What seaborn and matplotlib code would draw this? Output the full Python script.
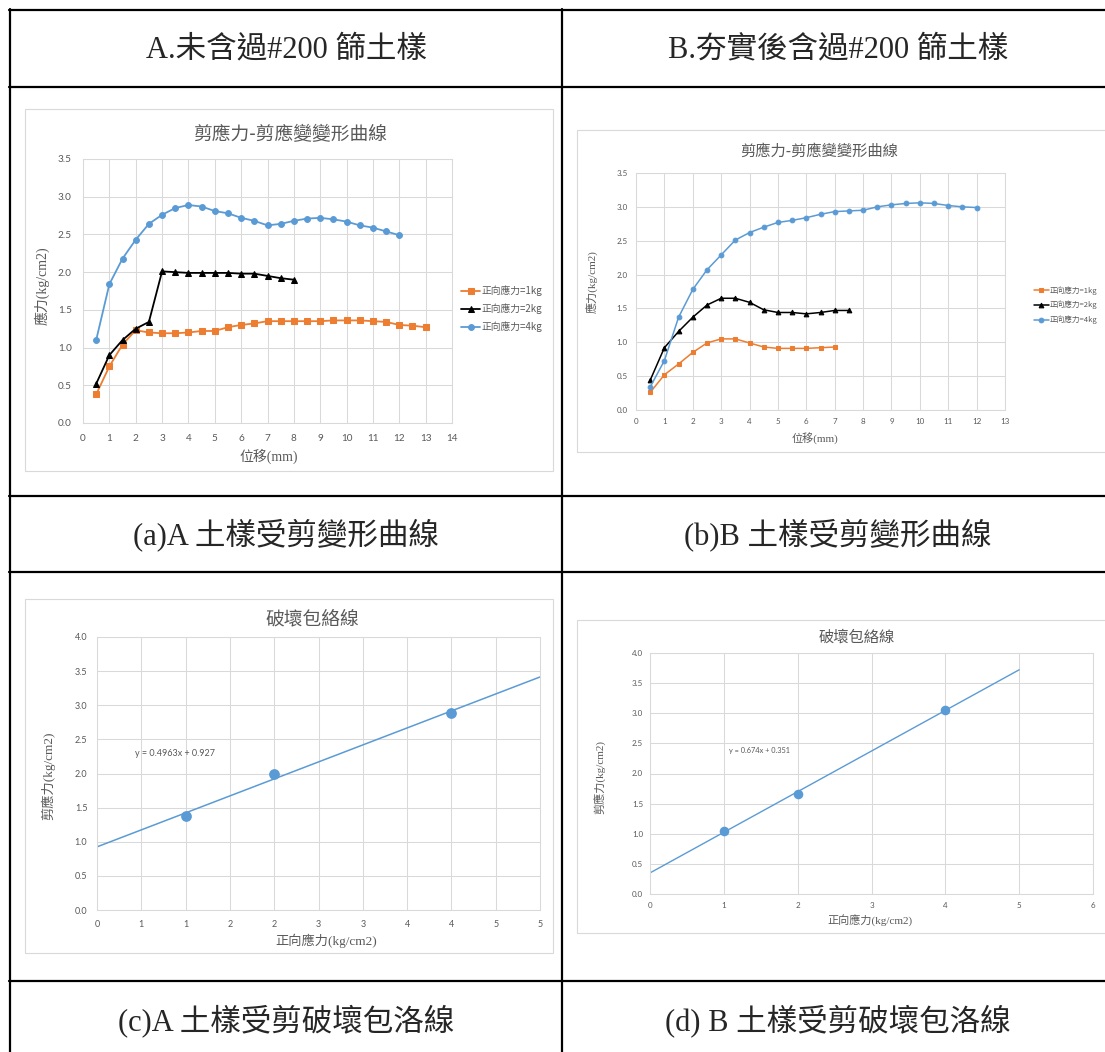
import numpy as np
import pandas as pd
import seaborn as sns
import matplotlib.pyplot as plt
from matplotlib.lines import Line2D
from matplotlib.patches import Rectangle
from matplotlib.ticker import FormatStrFormatter, FixedLocator, FixedFormatter

# ---- texts of the table ----
headers = ["A.未含過#200 篩土樣", "B.夯實後含過#200 篩土樣"]
captions_top = ["(a)A 土樣受剪變形曲線", "(b)B 土樣受剪變形曲線"]
captions_bottom = ["(c)A 土樣受剪破壞包洛線", "(d) B 土樣受剪破壞包洛線"]

curve_title = "剪應力-剪應變變形曲線"
curve_xlabel = "位移(mm)"
curve_ylabel = "應力(kg/cm2)"
env_title = "破壞包絡線"
env_xlabel = "正向應力(kg/cm2)"
env_ylabel = "剪應力(kg/cm2)"
series_names = ["正向應力=1kg", "正向應力=2kg", "正向應力=4kg"]

# ---- (a) soil A, shear stress vs displacement ----
disp_a1 = [0.5, 1, 1.5, 2, 2.5, 3, 3.5, 4, 4.5, 5, 5.5, 6, 6.5, 7, 7.5, 8, 8.5,
           9, 9.5, 10, 10.5, 11, 11.5, 12, 12.5, 13]
tau_a1 = [0.38, 0.75, 1.04, 1.23, 1.20, 1.19, 1.19, 1.20, 1.22, 1.22, 1.27, 1.30, 1.32,
          1.35, 1.35, 1.35, 1.35, 1.35, 1.36, 1.36, 1.36, 1.35, 1.34, 1.30, 1.29, 1.27]
disp_a2 = [0.5, 1, 1.5, 2, 2.5, 3, 3.5, 4, 4.5, 5, 5.5, 6, 6.5, 7, 7.5, 8]
tau_a2 = [0.52, 0.90, 1.10, 1.25, 1.34, 2.01, 2.00, 1.99, 1.99, 1.99, 1.99, 1.98, 1.98,
          1.95, 1.92, 1.90]
disp_a4 = [0.5, 1, 1.5, 2, 2.5, 3, 3.5, 4, 4.5, 5, 5.5, 6, 6.5, 7, 7.5, 8, 8.5,
           9, 9.5, 10, 10.5, 11, 11.5, 12]
tau_a4 = [1.10, 1.84, 2.18, 2.43, 2.64, 2.76, 2.85, 2.89, 2.87, 2.81, 2.78, 2.72, 2.68,
          2.62, 2.64, 2.68, 2.71, 2.72, 2.70, 2.67, 2.62, 2.59, 2.54, 2.49]

# ---- (b) soil B ----
disp_b1 = [0.5, 1, 1.5, 2, 2.5, 3, 3.5, 4, 4.5, 5, 5.5, 6, 6.5, 7]
tau_b1 = [0.26, 0.52, 0.68, 0.85, 0.99, 1.05, 1.05, 0.99, 0.93, 0.91, 0.91, 0.91, 0.92, 0.93]
disp_b2 = [0.5, 1, 1.5, 2, 2.5, 3, 3.5, 4, 4.5, 5, 5.5, 6, 6.5, 7, 7.5]
tau_b2 = [0.44, 0.92, 1.16, 1.37, 1.55, 1.65, 1.65, 1.59, 1.48, 1.44, 1.44, 1.42, 1.44,
          1.47, 1.47]
disp_b4 = [0.5, 1, 1.5, 2, 2.5, 3, 3.5, 4, 4.5, 5, 5.5, 6, 6.5, 7, 7.5, 8, 8.5,
           9, 9.5, 10, 10.5, 11, 11.5, 12]
tau_b4 = [0.34, 0.73, 1.37, 1.78, 2.07, 2.29, 2.51, 2.62, 2.70, 2.77, 2.80, 2.84, 2.89,
          2.93, 2.94, 2.95, 3.00, 3.03, 3.05, 3.06, 3.05, 3.02, 3.00, 2.99]

# ---- (c)/(d) failure envelopes ----
normal_stress = [1, 2, 4]
peak_a = [1.37, 2.00, 2.89]
peak_b = [1.05, 1.66, 3.06]
eq_a = "y = 0.4963x + 0.927"
eq_b = "y = 0.674x + 0.351"
ticks_c = [0, 0.5, 1, 1.5, 2, 2.5, 3, 3.5, 4, 4.5, 5]
ticklabels_c = ["0", "1", "1", "2", "2", "3", "3", "4", "4", "5", "5"]

ORANGE = "#ED7D31"
BLUE = "#5B9BD5"
GRID = "#d9d9d9"
TXT = "#595959"
CJK = ["Noto Sans CJK TC", "DejaVu Sans"]
SERIF = ["Liberation Serif", "Noto Sans CJK TC"]

sns.set_style("white")
plt.rcParams["font.family"] = CJK

W, H = 1105, 1052
fig = plt.figure(figsize=(W / 100, H / 100), dpi=100)


def rect(l, t, r, b):
    return [l / W, 1 - b / H, (r - l) / W, (b - t) / H]


def put(x, y, s, **kw):
    kw.setdefault("ha", "center")
    kw.setdefault("va", "center")
    fig.text(x / W, 1 - y / H, s, **kw)


def frame(l, t, r, b):
    fig.add_artist(Rectangle((l / W, 1 - b / H), (r - l) / W, (b - t) / H, fill=False,
                             ec=GRID, lw=0.8, transform=fig.transFigure))


def style(ax, fs, padx, pady):
    ax.grid(True, color=GRID, lw=0.75)
    ax.set_axisbelow(True)
    for s in ax.spines.values():
        s.set_color(GRID)
        s.set_linewidth(0.75)
    ax.tick_params(length=0, labelsize=fs, labelcolor=TXT, labelfontfamily="Lato")
    ax.tick_params(axis="x", pad=padx)
    ax.tick_params(axis="y", pad=pady)
    ax.yaxis.set_major_formatter(FormatStrFormatter("%.1f"))
    ax.set_xlabel("")
    ax.set_ylabel("")


# table grid
for y in [10, 87, 496, 572, 981]:
    fig.add_artist(Line2D([9 / W, 1], [1 - y / H] * 2, color="black", lw=1.6,
                          transform=fig.transFigure))
for x in [10, 562]:
    fig.add_artist(Line2D([x / W] * 2, [1 - 9 / H, 0], color="black", lw=1.6,
                          transform=fig.transFigure))

for cx, h, c1, c2 in zip([286, 838], headers, captions_top, captions_bottom):
    put(cx, 50, h, fontsize=22, family=SERIF)
    put(cx, 535, c1, fontsize=22, family=SERIF)
    put(cx, 1021, c2, fontsize=22, family=SERIF)

frame(25, 109, 553, 471)
frame(577, 130, 1110, 452)
frame(25, 599, 553, 953)
frame(577, 620, 1110, 933)


def curve_panel(box, xs, ys, xmax, ms, lw, fs, pads):
    ax = fig.add_axes(rect(*box))
    markers = ["s", "^", "o"]
    colors = [ORANGE, "black", BLUE]
    for x, y, m, c, name in zip(xs, ys, markers, colors, series_names):
        sns.lineplot(x=x, y=y, ax=ax, color=c, marker=m, markersize=ms, mec=c, mfc=c,
                     linewidth=lw, label=name, sort=False, errorbar=None)
    ax.set_xlim(0, xmax)
    ax.set_ylim(0, 3.5)
    ax.xaxis.set_major_locator(FixedLocator(list(range(0, xmax + 1))))
    ax.yaxis.set_major_locator(FixedLocator([0, 0.5, 1, 1.5, 2, 2.5, 3, 3.5]))
    style(ax, fs, *pads)
    return ax


# (a)
ax_a = curve_panel((83, 159, 452, 423), [disp_a1, disp_a2, disp_a4],
                   [tau_a1, tau_a2, tau_a4], 14, 4.2, 1.3, 7.2, (8, 8))
ax_a.legend(loc="center left", bbox_to_anchor=(461 / W, 1 - 309 / H),
            bbox_transform=fig.transFigure, frameon=False, fontsize=7,
            handlelength=2.0, handletextpad=0.15, labelspacing=0.75, borderpad=0,
            borderaxespad=0, labelcolor=TXT)
put(290, 135, curve_title, fontsize=13.5, color=TXT)
put(269, 456, curve_xlabel, fontsize=10, color=TXT, family=SERIF)
put(42, 286, curve_ylabel, fontsize=10, color=TXT, family=SERIF, rotation=90)

# (b)
ax_b = curve_panel((636, 173, 1005, 410), [disp_b1, disp_b2, disp_b4],
                   [tau_b1, tau_b2, tau_b4], 13, 3.4, 1.1, 5.8, (6, 6))
ax_b.legend(loc="center left", bbox_to_anchor=(1034 / W, 1 - 305 / H),
            bbox_transform=fig.transFigure, frameon=False, fontsize=5.5,
            handlelength=1.9, handletextpad=0.15, labelspacing=0.8, borderpad=0,
            borderaxespad=0, labelcolor=TXT)
put(819, 151, curve_title, fontsize=11, color=TXT)
put(815, 438, curve_xlabel, fontsize=8, color=TXT, family=SERIF)
put(593, 282, curve_ylabel, fontsize=8, color=TXT, family=SERIF, rotation=90)


def envelope_panel(box, x, y, fit_max, xmax, s, lw, fs, pads):
    ax = fig.add_axes(rect(*box))
    ax.set_xlim(0, fit_max)
    ax.set_ylim(0, 4)
    sns.regplot(x=x, y=y, ax=ax, ci=None, truncate=False, color=BLUE,
                scatter_kws={"s": s, "alpha": 1, "linewidths": 0},
                line_kws={"lw": lw})
    ax.set_xlim(0, xmax)
    ax.set_ylim(0, 4)
    ax.yaxis.set_major_locator(FixedLocator([0, 0.5, 1, 1.5, 2, 2.5, 3, 3.5, 4]))
    style(ax, fs, *pads)
    return ax


# (c)
ax_c = envelope_panel((97, 637, 540, 910), normal_stress, peak_a, 5, 5, 60, 1.1, 6.5,
                      (7, 7))
ax_c.xaxis.set_major_locator(FixedLocator(ticks_c))
ax_c.xaxis.set_major_formatter(FixedFormatter(ticklabels_c))
put(135, 753, eq_a, fontsize=6.5, color=TXT, family="Lato", ha="left")
put(312, 619, env_title, fontsize=13.5, color=TXT)
put(326, 941, env_xlabel, fontsize=9.5, color=TXT, family=SERIF)
put(48, 776, env_ylabel, fontsize=9.5, color=TXT, family=SERIF, rotation=90)

# (d)
ax_d = envelope_panel((650, 653, 1093, 894), normal_stress, peak_b, 5, 6, 48, 1.0, 5.8,
                      (6, 5))
ax_d.xaxis.set_major_locator(FixedLocator(list(range(0, 7))))
put(729, 751, eq_b, fontsize=5.3, color=TXT, family="Lato", ha="left")
put(857, 637, env_title, fontsize=11, color=TXT)
put(870, 921, env_xlabel, fontsize=8, color=TXT, family=SERIF)
put(600, 777, env_ylabel, fontsize=8, color=TXT, family=SERIF, rotation=90)

fig.savefig("out.png", dpi=100, facecolor="white")
